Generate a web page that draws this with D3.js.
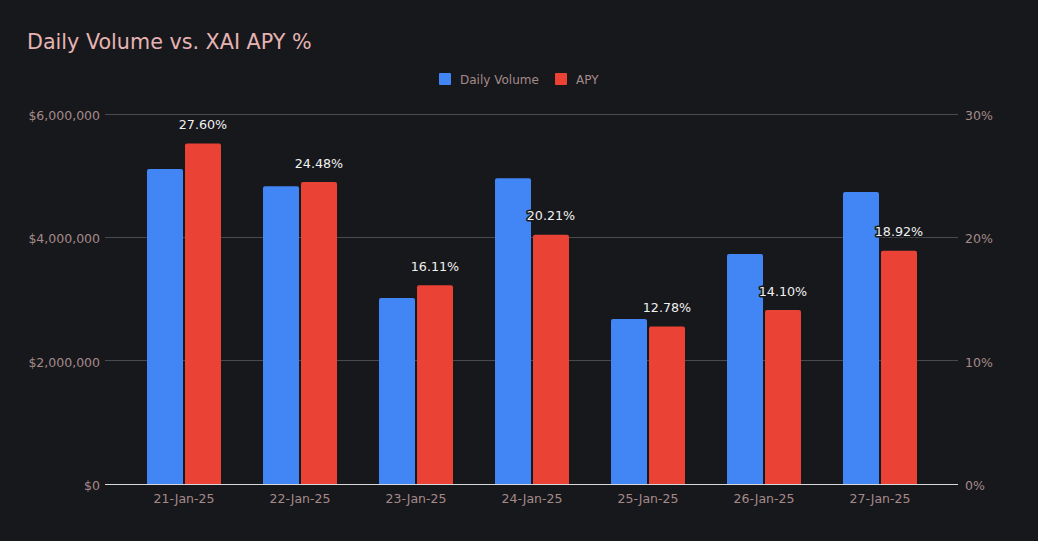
<!DOCTYPE html>
<html><head><meta charset="utf-8">
<script src="https://cdn.jsdelivr.net/npm/d3@7"></script>
<style>html,body{margin:0;padding:0;background:#17181c;}svg{display:block;}</style>
</head><body>
<svg id="c" width="1038" height="541"></svg>
<script>
const categories = ["21-Jan-25","22-Jan-25","23-Jan-25","24-Jan-25","25-Jan-25","26-Jan-25","27-Jan-25"];
const volume = [5110000, 4830000, 3015000, 4960000, 2675000, 3730000, 4735000];
const apy = [27.60, 24.48, 16.11, 20.21, 12.78, 14.10, 18.92];
const leftTicks = [0, 2000000, 4000000, 6000000];
const rightTicks = [0, 10, 20, 30];
const seriesNames = ["Daily Volume", "APY"];
const colors = ["#4285f4", "#ea4335"];

(function () {
const svg = d3.select("#c");
const W = 1038, H = 541;
svg.append("rect").attr("width", W).attr("height", H).attr("fill", "#17181c");
const font = "DejaVu Sans, Verdana, sans-serif";
const gridL = 105, gridR = 958, plotTop = 114, plotBottom = 484;
const axisFs = 12.5, axisColor = "#a58a8a";

const x = d3.scaleBand().domain(categories).range([126, 938]).paddingInner(0).paddingOuter(0);
const yL = d3.scaleLinear().domain([0, 6000000]).range([plotBottom, plotTop]);
const yR = d3.scaleLinear().domain([0, 30]).range([plotBottom, plotTop]);
const barW = 36, gap = 2;

svg.append("g").selectAll("line").data(leftTicks.filter(d => d > 0)).join("line")
  .attr("x1", gridL).attr("x2", gridR).attr("y1", d => yL(d)).attr("y2", d => yL(d))
  .attr("stroke", "#4a4a4e").attr("stroke-width", 1).attr("shape-rendering", "crispEdges");

svg.append("g").selectAll("text").data(leftTicks).join("text")
  .attr("x", 100).attr("y", d => yL(d) + 6).attr("text-anchor", "end")
  .attr("font-family", font).attr("font-size", axisFs).attr("fill", axisColor)
  .text(d => "$" + d3.format(",")(d));

svg.append("g").selectAll("text").data(rightTicks).join("text")
  .attr("x", 965).attr("y", d => yR(d) + 6).attr("text-anchor", "start")
  .attr("font-family", font).attr("font-size", axisFs).attr("fill", axisColor)
  .text(d => d + "%");

function roundTopRect(x0, y0, w, h, r) {
  r = Math.min(r, h / 2, w / 2);
  return `M${x0},${y0 + h}V${y0 + r}Q${x0},${y0} ${x0 + r},${y0}H${x0 + w - r}Q${x0 + w},${y0} ${x0 + w},${y0 + r}V${y0 + h}Z`;
}

const cx = d => x(d) + x.bandwidth() / 2;
svg.append("g").selectAll("path").data(categories).join("path")
  .attr("d", (d, i) => roundTopRect(cx(d) - gap / 2 - barW, yL(volume[i]), barW, plotBottom - yL(volume[i]), 2))
  .attr("fill", colors[0]);
svg.append("g").selectAll("path").data(categories).join("path")
  .attr("d", (d, i) => roundTopRect(cx(d) + gap / 2, yR(apy[i]), barW, plotBottom - yR(apy[i]), 2))
  .attr("fill", colors[1]);

svg.append("line").attr("x1", gridL).attr("x2", gridR).attr("y1", plotBottom).attr("y2", plotBottom)
  .attr("stroke", "#d8d8d8").attr("stroke-width", 1).attr("shape-rendering", "crispEdges");

svg.append("g").selectAll("text").data(categories).join("text")
  .attr("x", d => cx(d) + gap / 2 + barW / 2).attr("y", (d, i) => yR(apy[i]) - 14.5)
  .attr("text-anchor", "middle").attr("font-family", font).attr("font-size", 12.7)
  .attr("fill", "#f0f0f0").attr("stroke", "#17181c").attr("stroke-width", 3)
  .attr("paint-order", "stroke").attr("stroke-linejoin", "round")
  .text((d, i) => apy[i].toFixed(2) + "%");

svg.append("g").selectAll("text").data(categories).join("text")
  .attr("x", d => cx(d)).attr("y", 503).attr("text-anchor", "middle")
  .attr("font-family", font).attr("font-size", axisFs).attr("fill", axisColor)
  .text(d => d);

svg.append("text").attr("x", 27).attr("y", 49).attr("font-family", font).attr("font-size", 20.7)
  .attr("fill", "#e6b3b3").text("Daily Volume vs. XAI APY %");

const legend = [{x: 439, name: seriesNames[0], c: colors[0]}, {x: 555, name: seriesNames[1], c: colors[1]}];
const lg = svg.append("g").selectAll("g").data(legend).join("g");
lg.append("rect").attr("x", d => d.x).attr("y", 73).attr("width", 12).attr("height", 12).attr("rx", 1).attr("fill", d => d.c);
lg.append("text").attr("x", d => d.x + 21).attr("y", 83.5).attr("font-family", font).attr("font-size", 12)
  .attr("fill", axisColor).text(d => d.name);
})();
</script>
</body></html>
